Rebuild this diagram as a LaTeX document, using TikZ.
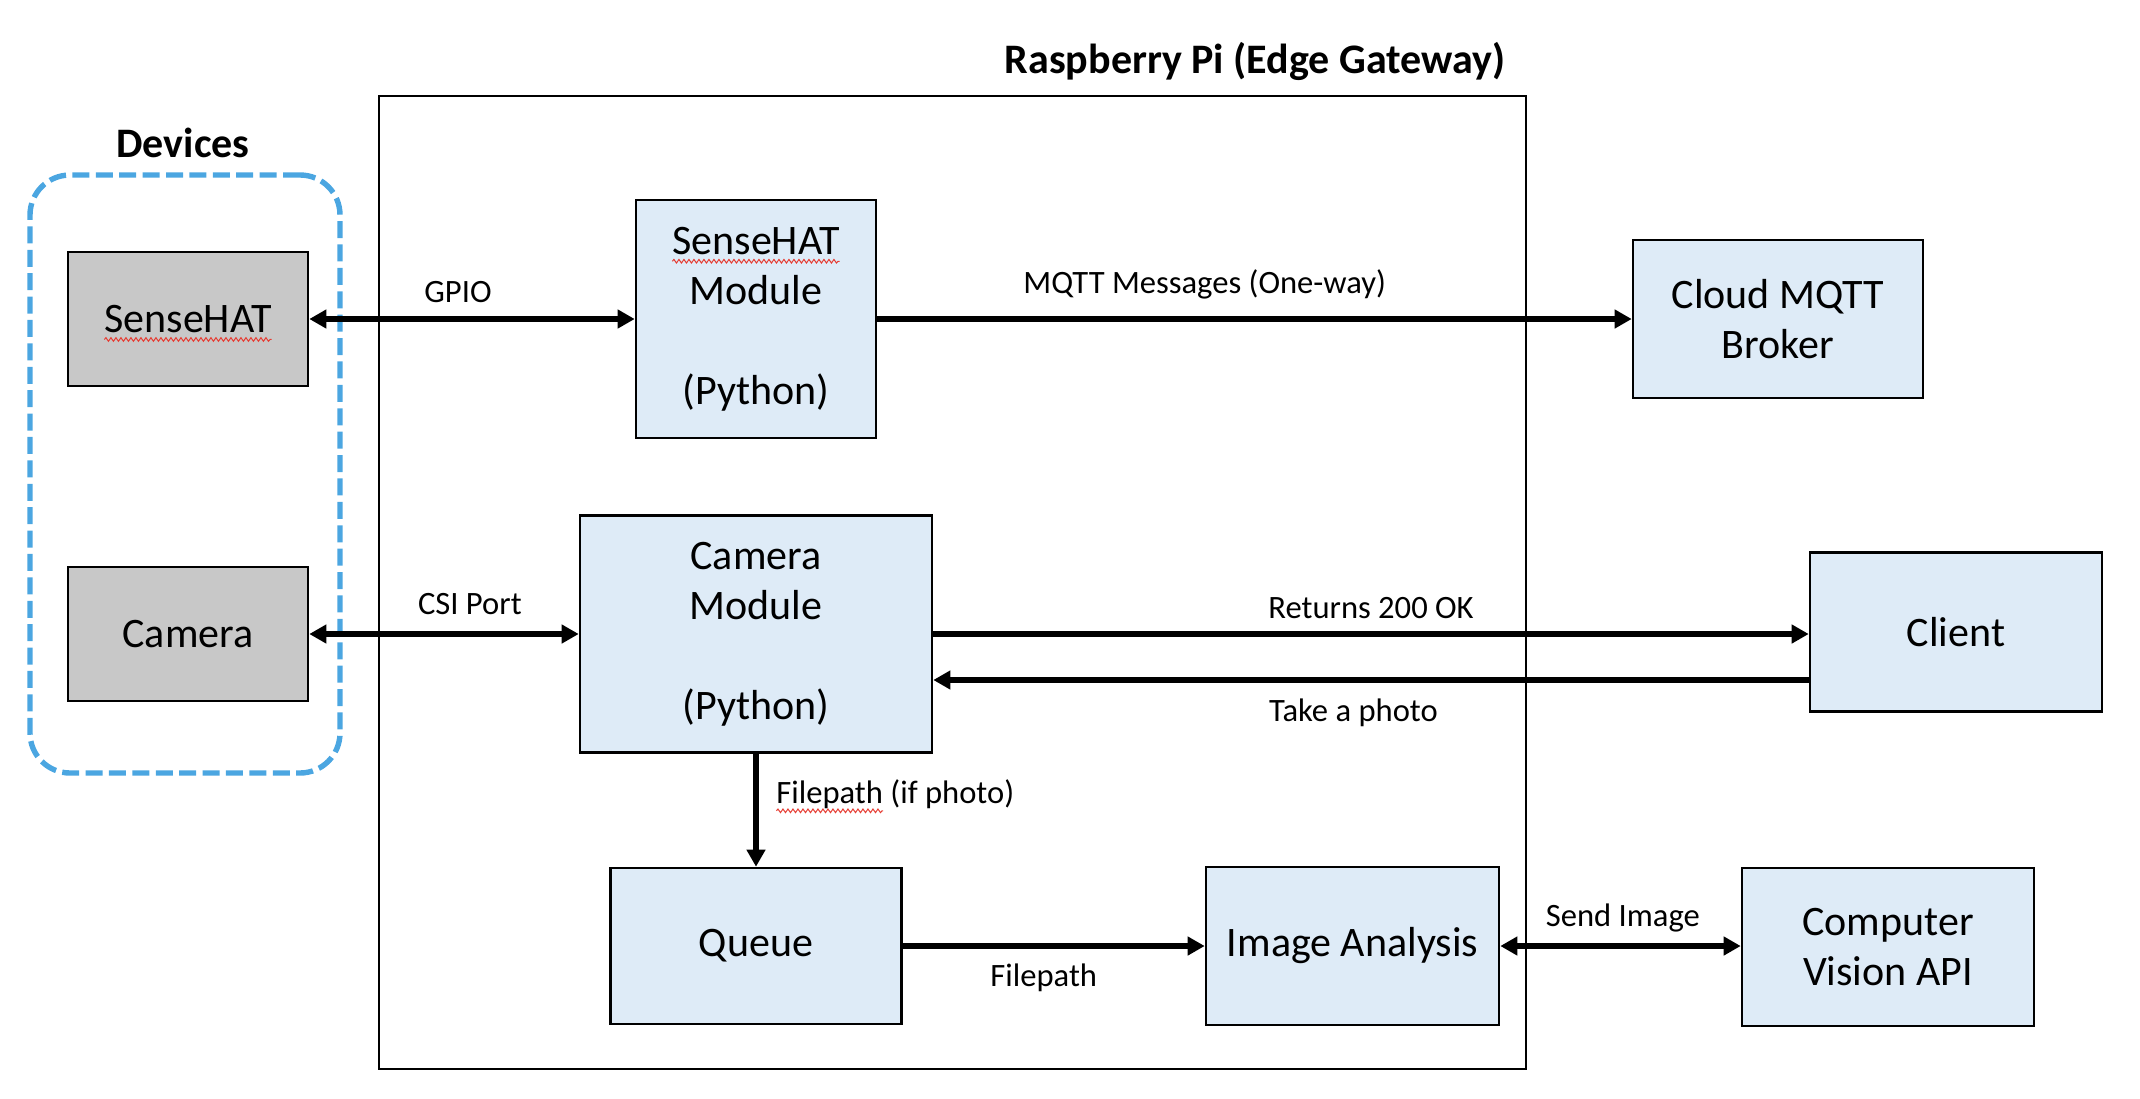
\documentclass[tikz,border=0pt]{standalone}
\usepackage{fontspec}
\setmainfont{Carlito}
\usetikzlibrary{positioning, arrows.meta, decorations.pathmorphing}

\definecolor{boxblue}{RGB}{222,235,247}
\definecolor{devgrey}{RGB}{200,200,200}
\definecolor{devline}{RGB}{75,166,225}
\definecolor{spellred}{RGB}{230,60,50}

% red wavy mark under a word
\newcommand{\spellmark}[1]{\tikz[baseline=(sw.base)]{\node[draw=none, fill=none, inner sep=0pt, outer sep=0pt, minimum width=0pt, minimum height=0pt, anchor=center, shift={(0,0)}] (sw) {#1};
    \draw[overlay, arrows=-, spellred, line width=0.5pt, decorate, decoration={snake, amplitude=0.9pt, segment length=2.5pt}] ([yshift=-3.5pt]sw.base west) -- ([yshift=-3.5pt]sw.base east);}}

\begin{document}
\begin{tikzpicture}[x=0.5pt, y=-0.5pt,
        box/.style={draw, line width=1.3pt, fill=boxblue, inner sep=0pt, align=center, font=\fontsize{21}{25}\selectfont},
        devbox/.style={box, fill=devgrey, minimum width=120pt, minimum height=67pt},
        title/.style={font=\bfseries\fontsize{21}{25}\selectfont},
        lbl/.style={font=\fontsize{16.3}{19}\selectfont, inner sep=0pt, anchor=base},
        link/.style={line width=3pt, -{Triangle[length=8.5pt, width=9pt]}},
        twoway/.style={line width=3pt, {Triangle[length=8.5pt, width=9pt]}-{Triangle[length=8.5pt, width=9pt]}}]
        \useasboundingbox (0,0) rectangle (2140,1098);

        % devices
        \node[draw=devline, line width=2.7pt, dash pattern=on 8.5pt off 3.2pt, rounded corners=20pt, minimum width=155pt, minimum height=299pt] (devs) at (185,474) {};
        \node[title] (devtl) at (183,143) {Devices};
        \node[devbox] (senseDev) at (188,319) {\spellmark{SenseHAT}};
        \node[devbox] (camDev) at (188,634) {Camera};

        % raspberry pi
        \node[draw, line width=1pt, minimum width=573.5pt, minimum height=486.5pt] (rpi) at (952.5,582.5) {};
        \node[title] (rpitl) at (1255,61) {Raspberry Pi (Edge Gateway)};
        \node[box, minimum width=120pt, minimum height=119pt] (senseMod) at (756,319) {\spellmark{SenseHAT}\\Module\\[25pt](Python)};
        \node[box, minimum width=176pt, minimum height=118.5pt] (camMod) at (756,634) {Camera\\Module\\[25pt](Python)};
        \node[box, minimum width=145.5pt, minimum height=78pt] (queue) at (756,946) {Queue};
        \node[box, minimum width=146.5pt, minimum height=79pt] (ia) at (1352.5,946) {Image Analysis};

        % outside
        \node[box, minimum width=145pt, minimum height=79pt] (cloud) at (1778,319) {Cloud MQTT\\Broker};
        \node[box, minimum width=146pt, minimum height=79.5pt] (client) at (1956,632) {Client};
        \node[box, minimum width=146pt, minimum height=79pt] (cv) at (1888,947) {Computer\\Vision API};

        \draw[twoway] (senseDev) -- node[lbl, pos=0.457, yshift=8.5pt] {GPIO} (senseMod);
        \draw[link] (senseMod) -- node[lbl, pos=0.434, yshift=13pt] {MQTT Messages (One-way)} (cloud);
        \draw[twoway] (camDev) -- node[lbl, pos=0.596, yshift=10pt] {CSI Port} (camMod);
        \draw[link] (camMod.east) -- node[lbl, pos=0.5, yshift=8pt] {Returns 200 OK} (camMod.east -| client.west);
        \draw[link] ([yshift=-23pt]camMod.east -| client.west) -- node[lbl, pos=0.52, yshift=-20.5pt] {Take a photo} ([yshift=-23pt]camMod.east);
        \draw[link] (camMod) -- node[lbl, anchor=base west, pos=0.443, xshift=10pt] {\spellmark{Filepath} (if photo)} (queue);
        \draw[link] (queue) -- node[lbl, pos=0.467, yshift=-20pt] {Filepath} (ia);
        \draw[twoway] (ia.east) -- node[lbl, pos=0.51, yshift=10pt] {Send Image} (ia.east -| cv.west);
\end{tikzpicture}
\end{document}
